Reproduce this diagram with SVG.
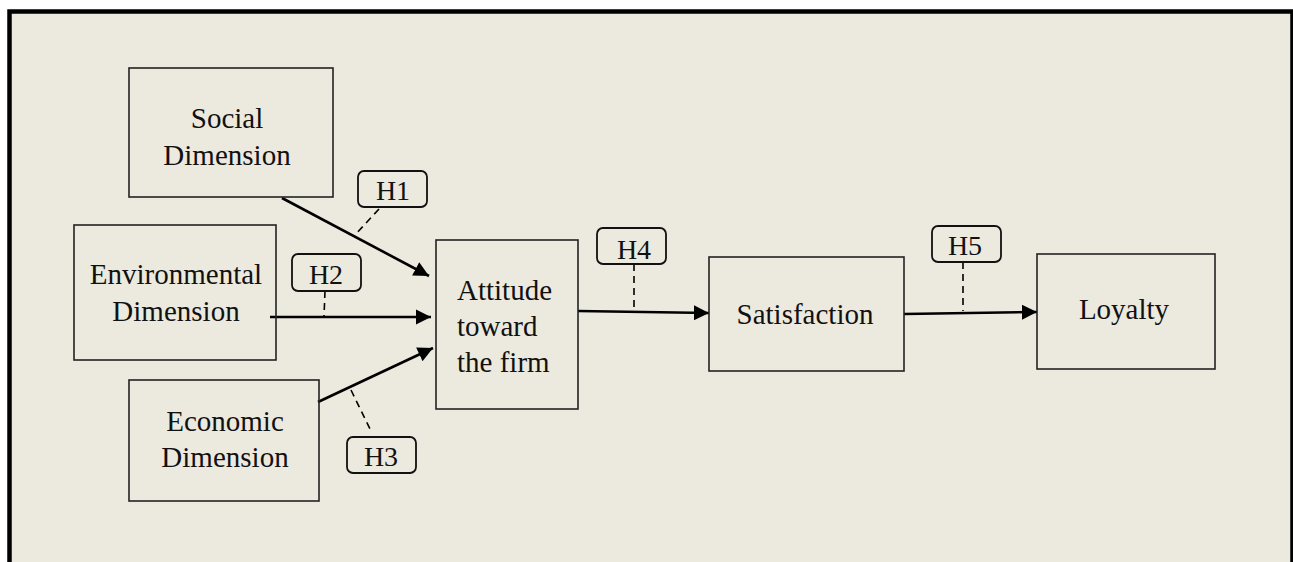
<svg xmlns="http://www.w3.org/2000/svg" width="1293" height="562" viewBox="0 0 1293 562">
<defs>
<style>
.node{fill:none;stroke:#222;stroke-width:1.6}
.hbox{fill:#ECE9DF;stroke:#111;stroke-width:1.8}
.t{font-family:"Liberation Serif","Times New Roman",serif;font-size:29px;fill:#111}
.h{font-family:"Liberation Serif","Times New Roman",serif;font-size:28px;fill:#111;text-anchor:middle}
.c{text-anchor:middle}
.edge{stroke:#000;stroke-width:2.6;fill:none}
.dash{stroke:#000;stroke-width:1.6;stroke-dasharray:7,5;fill:none}
</style>
<marker id="arr" viewBox="0 0 10 10" refX="10" refY="5" markerWidth="6" markerHeight="5.8" markerUnits="strokeWidth" orient="auto">
<path d="M0,0 L10,5 L0,10 Z" fill="#000"/>
</marker>
</defs>
<rect x="0" y="0" width="1293" height="562" fill="#fff"/>
<rect x="9.5" y="11.5" width="1283" height="600" fill="#ECE9DF" stroke="#000" stroke-width="4.5"/>

<g id="connectors">
<line class="edge" x1="282" y1="198" x2="429" y2="276" marker-end="url(#arr)"/>
<line class="edge" x1="270" y1="317" x2="431" y2="317" marker-end="url(#arr)"/>
<line class="edge" x1="318" y1="402" x2="433" y2="348" marker-end="url(#arr)"/>
<line class="edge" x1="578" y1="311" x2="709" y2="313" marker-end="url(#arr)"/>
<line class="edge" x1="904" y1="314" x2="1037" y2="312" marker-end="url(#arr)"/>
<line class="dash" x1="379" y1="209" x2="354" y2="236"/>
<line class="dash" x1="325" y1="291" x2="324" y2="317"/>
<line class="dash" x1="351" y1="390" x2="371" y2="431"/>
<line class="dash" x1="634" y1="264" x2="634" y2="310"/>
<line class="dash" x1="963" y1="262" x2="963" y2="311"/>
</g>

<g id="social">
<rect class="node" x="129" y="68" width="204" height="129"/>
<text class="t c" x="227" y="128">Social</text>
<text class="t c" x="227" y="165">Dimension</text>
</g>
<g id="environmental">
<rect class="node" x="74" y="225" width="202" height="135"/>
<text class="t c" x="176" y="284">Environmental</text>
<text class="t c" x="176" y="321">Dimension</text>
</g>
<g id="economic">
<rect class="node" x="129" y="380" width="190" height="121"/>
<text class="t c" x="225" y="431">Economic</text>
<text class="t c" x="225" y="467">Dimension</text>
</g>
<g id="attitude">
<rect class="node" x="436" y="240" width="142" height="169"/>
<text class="t" x="457" y="300">Attitude</text>
<text class="t" x="457" y="336">toward</text>
<text class="t" x="457" y="372">the firm</text>
</g>
<g id="satisfaction">
<rect class="node" x="709" y="257" width="195" height="114"/>
<text class="t c" x="805" y="324">Satisfaction</text>
</g>
<g id="loyalty">
<rect class="node" x="1037" y="254" width="178" height="115"/>
<text class="t c" x="1124" y="319">Loyalty</text>
</g>

<g id="h1">
<rect class="hbox" x="358" y="171" width="69" height="36" rx="6"/>
<text class="h" x="393" y="200">H1</text>
</g>
<g id="h2">
<rect class="hbox" x="292" y="254" width="69" height="37" rx="6"/>
<text class="h" x="326" y="284">H2</text>
</g>
<g id="h3">
<rect class="hbox" x="347" y="437" width="69" height="36" rx="6"/>
<text class="h" x="381" y="466">H3</text>
</g>
<g id="h4">
<rect class="hbox" x="597" y="228" width="69" height="36" rx="6"/>
<text class="h" x="634" y="259">H4</text>
</g>
<g id="h5">
<rect class="hbox" x="932" y="226" width="69" height="36" rx="6"/>
<text class="h" x="965" y="255">H5</text>
</g>
</svg>
